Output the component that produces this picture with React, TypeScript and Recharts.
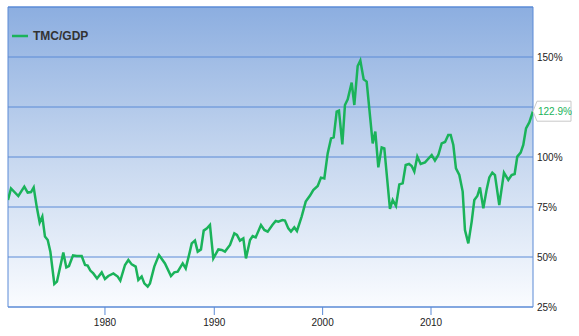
import React from 'react';
import { LineChart, Line, XAxis, YAxis, CartesianGrid, ReferenceArea, Legend } from 'recharts';

// Time positions (fractional years) and TMC/GDP values (%)
const years = [
  1971.0, 1971.25, 1971.86, 1972.36, 1972.64, 1972.92, 1973.14, 1973.39, 1973.64, 1973.86,
  1974.08, 1974.31, 1974.53, 1974.86, 1975.08, 1975.61, 1975.86, 1976.08, 1976.42, 1976.73,
  1977.14, 1977.42, 1977.64, 1977.86, 1978.11, 1978.42, 1978.81, 1979.08, 1979.36, 1979.78,
  1980.14, 1980.36, 1980.75, 1981.03, 1981.31, 1981.64, 1981.86, 1982.14, 1982.36, 1982.64,
  1982.83, 1983.19, 1983.58, 1984.08, 1984.58, 1984.86, 1985.14, 1985.56, 1985.81, 1986.14,
  1986.31, 1986.58, 1986.81, 1987.08, 1987.31, 1987.58, 1987.83, 1988.11, 1988.53, 1988.81,
  1989.08, 1989.5, 1989.86, 1990.08, 1990.33, 1990.61, 1990.83, 1991.17, 1991.39, 1991.64,
  1992.08, 1992.36, 1992.64, 1993.03, 1993.31, 1993.53, 1993.86, 1994.08, 1994.36, 1994.58,
  1994.86, 1995.08, 1995.47, 1995.81, 1996.17, 1996.44, 1996.81, 1997.08, 1997.36, 1997.64,
  1997.92, 1998.14, 1998.39, 1998.58, 1998.86, 1999.08, 1999.31, 1999.64, 1999.86, 2000.14,
  2000.36, 2000.64, 2000.89, 2001.39, 2001.61, 2001.86, 2002.14, 2002.36, 2002.83, 2003.06,
  2003.33, 2003.61, 2003.89, 2004.14, 2004.42, 2004.64, 2004.86, 2005.11, 2005.39, 2005.75,
  2006.31, 2006.58, 2006.86, 2007.14, 2007.42, 2007.69, 2007.89, 2008.11, 2008.33, 2008.61,
  2008.89, 2009.08, 2009.36, 2009.64, 2009.86, 2010.11, 2010.33, 2010.61, 2010.89, 2011.11,
  2011.36, 2011.58, 2011.94, 2012.33, 2012.69, 2012.97, 2013.22, 2013.44, 2013.72, 2013.94,
  2014.17, 2014.44, 2014.75,
];

const tmcGdp = [
  78.5, 84.3, 80.5, 85.2, 82.2, 82.5, 84.8, 75.2, 67.2, 70.2,
  60.2, 58.5, 52.7, 36.5, 37.7, 52.2, 44.8, 45.5, 50.8, 50.5,
  50.5, 46.0, 45.7, 43.2, 41.8, 39.3, 42.3, 39.0, 40.5, 41.8,
  40.2, 38.2, 46.0, 48.5, 46.3, 45.2, 38.5, 40.2, 36.8, 35.2,
  36.8, 45.2, 51.0, 46.8, 40.5, 42.3, 42.7, 46.8, 44.3, 52.3,
  56.8, 58.2, 52.7, 53.8, 63.2, 64.3, 66.0, 49.3, 53.8, 53.5,
  52.7, 56.0, 61.8, 61.0, 58.2, 59.3, 49.3, 58.5, 60.5, 59.8,
  66.0, 63.5, 62.7, 66.0, 68.0, 67.7, 68.5, 68.2, 64.3, 62.7,
  64.8, 63.0, 70.2, 77.7, 80.7, 83.5, 85.5, 89.7, 89.3, 101.8,
  109.3, 109.8, 122.7, 123.2, 106.3, 126.0, 128.8, 137.2, 126.0, 145.5,
  148.2, 138.8, 137.7, 106.8, 112.7, 94.8, 104.8, 104.3, 74.0, 78.5,
  75.5, 86.3, 86.8, 96.0, 96.5, 95.5, 92.7, 100.2, 96.5, 97.3,
  101.0, 98.2, 101.0, 106.8, 107.5, 111.0, 111.0, 106.0, 94.3, 91.0,
  82.7, 63.5, 56.8, 67.7, 78.5, 80.5, 84.8, 74.3, 83.8, 89.8,
  92.2, 91.0, 76.0, 92.2, 88.5, 91.0, 91.5, 100.2, 102.2, 106.0,
  114.3, 117.3, 122.9,
];

// X tick labels and the positions where the reference places them
const xTickLabels = ['1980', '1990', '2000', '2010'];
const xTickPositions = [1979.08, 1988.19, 1997.22, 2006.25];

const yTicks = [25, 50, 75, 100, 125, 150];
const xDomain = [1971, 2014.75];
const yDomain = [25, 175];

const seriesName = 'TMC/GDP';

const data = years.map((year, i) => ({ year, value: tmcGdp[i] }));

const GREEN = '#1ab35a';
const BLUE = '#5b8ad6';
const FONT = '"Liberation Sans", Arial, Helvetica, sans-serif';

const CalloutLabel = (props: any) => {
  const { x, y, index, value } = props;
  if (index !== data.length - 1 || x == null || y == null) return null;
  const d = `M${x},${y} L${x + 4},${y - 10} L${x + 38},${y - 10} L${x + 38},${y + 10} L${x + 4},${y + 10} Z`;
  return (
    <g>
      <path d={d} fill="#ffffff" stroke="#c9c9c9" strokeWidth={1} />
      <text x={x + 5} y={y + 3.5} fontSize={10} fontFamily={FONT} fill={GREEN}>
        {Number(value).toFixed(1)}%
      </text>
    </g>
  );
};

const LegendContent = () => (
  <div style={{ display: 'flex', alignItems: 'center', height: 14 }}>
    <svg width={20} height={12} style={{ display: 'block' }}>
      <line x1={2} y1={6} x2={18} y2={6} stroke={GREEN} strokeWidth={2.5} />
    </svg>
    <span style={{ fontFamily: FONT, fontWeight: 'bold', fontSize: 12, color: '#333', marginLeft: 3, lineHeight: '14px' }}>
      {seriesName}
    </span>
  </div>
);

export default function App() {
  return (
    <div style={{ position: 'absolute', left: 0, top: 0, width: 579, height: 336, background: '#fff' }}>
      <LineChart width={579} height={336} data={data} margin={{ top: 7, right: 6, bottom: 0, left: 8 }}>
        <defs>
          <linearGradient id="bgGrad" x1="0" y1="0" x2="0" y2="1">
            <stop offset="0%" stopColor="#8caee0" />
            <stop offset="50%" stopColor="#c6d7ef" />
            <stop offset="100%" stopColor="#fafcff" />
          </linearGradient>
        </defs>
        <CartesianGrid vertical={false} stroke={BLUE} strokeWidth={1} fill="url(#bgGrad)" fillOpacity={1} />
        <XAxis
          dataKey="year"
          type="number"
          domain={xDomain}
          ticks={xTickPositions}
          tickFormatter={(v: number) => xTickLabels[xTickPositions.indexOf(v)] ?? ''}
          axisLine={false}
          tickLine={{ stroke: BLUE }}
          tickSize={8}
          tickMargin={4}
          height={29}
          tick={{ fontSize: 10, fill: '#222', fontFamily: FONT }}
          allowDataOverflow
        />
        <YAxis
          orientation="right"
          type="number"
          domain={yDomain}
          ticks={yTicks}
          tickFormatter={(v: number) => `${v}%`}
          axisLine={false}
          tickLine={false}
          tickSize={4}
          tickMargin={0}
          width={40}
          tick={{ fontSize: 10, fill: '#222', fontFamily: FONT }}
          allowDataOverflow
        />
        <ReferenceArea x1={xDomain[0]} x2={xDomain[1]} y1={yDomain[0]} y2={yDomain[1]} fill="none" fillOpacity={0} stroke={BLUE} strokeWidth={1} />
        <Legend
          layout="horizontal"
          verticalAlign="middle"
          align="center"
          wrapperStyle={{ top: 29, left: 10, width: 120, height: 14 }}
          content={LegendContent}
        />
        <Line
          type="linear"
          dataKey="value"
          name={seriesName}
          stroke={GREEN}
          strokeWidth={2.5}
          dot={false}
          activeDot={false}
          isAnimationActive={false}
          label={CalloutLabel}
        />
      </LineChart>
    </div>
  );
}
